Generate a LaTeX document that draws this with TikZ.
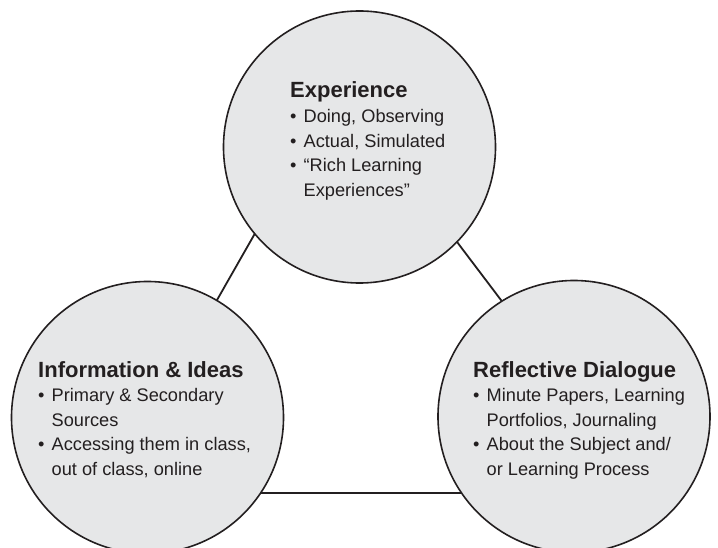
\documentclass[tikz,border=0pt]{standalone}
\usepackage{fontspec}
\setmainfont{Liberation Sans}
\definecolor{circfill}{HTML}{E6E7E8}
\definecolor{ink}{HTML}{231F20}
\tikzset{
  bubble/.style={circle, draw=ink, fill=circfill, line width=1.6pt, minimum size=272pt, inner sep=0pt},
  link/.style={draw=ink, line width=1.8pt},
  caption/.style={anchor=base west, inner sep=0pt, text=ink, font=\fontsize{18.2}{24.6}\selectfont},
}
\newcommand\titl[1]{{\fontsize{22}{25}\selectfont\bfseries #1}}
\newcommand\bul{\makebox[13.5pt][l]{•}}
\newcommand\ind{\hspace*{13.5pt}}
\begin{document}
\begin{tikzpicture}[x=1pt,y=-1pt]
  \fill[white] (0,0) rectangle (718,548);
  \useasboundingbox (0,0) rectangle (718,548);
  % triangle corners (hidden inside the circles)
  \coordinate (apex) at (339,86);
  \coordinate (lv) at (107,493);
  \coordinate (rv) at (647,493);
  \draw[link] (apex) -- (lv) -- (rv) -- cycle;
  % circles
  \node[bubble] (exp) at (359.5,147) {};
  \node[bubble] (info) at (147.5,417.5) {};
  \node[bubble] (refl) at (574,416.5) {};
  % texts
  \node[caption] (exptext) at (290,98) {\vtop{%
    \hbox{\titl{Experience}}
    \hbox{\bul Doing, Observing}
    \hbox{\bul Actual, Simulated}
    \hbox{\bul “Rich Learning}
    \hbox{\ind Experiences”}}};
  \node[caption] (infotext) at (38,377) {\vtop{%
    \hbox{\titl{Information \& Ideas}}
    \hbox{\bul Primary \& Secondary}
    \hbox{\ind Sources}
    \hbox{\bul Accessing them in class,}
    \hbox{\ind out of class, online}}};
  \node[caption] (refltext) at (473,377) {\vtop{%
    \hbox{\titl{Reflective Dialogue}}
    \hbox{\bul Minute Papers, Learning}
    \hbox{\ind Portfolios, Journaling}
    \hbox{\bul About the Subject and/}
    \hbox{\ind or Learning Process}}};
\end{tikzpicture}
\end{document}
